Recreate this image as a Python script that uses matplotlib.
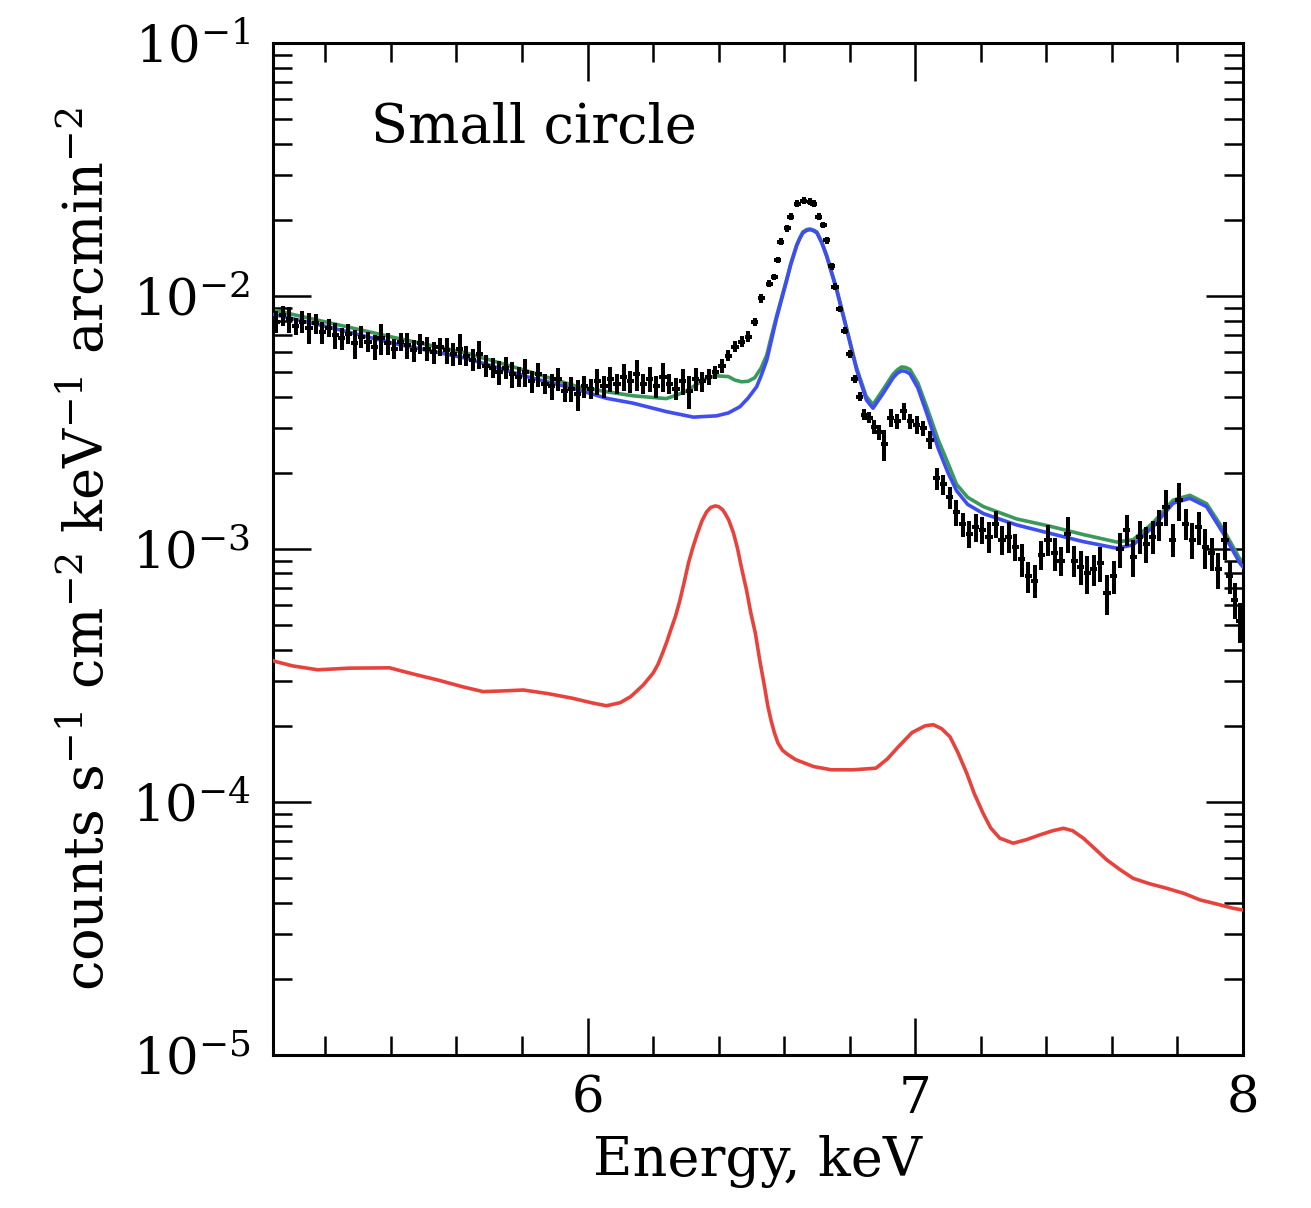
import matplotlib
matplotlib.use("Agg")
import matplotlib.pyplot as plt
from matplotlib.ticker import LogLocator, LogFormatterMathtext, MultipleLocator, NullFormatter

plt.rcParams['font.family'] = 'DejaVu Serif'
plt.rcParams['mathtext.fontset'] = 'dejavuserif'

# observed spectrum (keV, counts s^-1 cm^-2 keV^-1 arcmin^-2, relative error)
energy = [5.05, 5.07, 5.09, 5.11, 5.13, 5.15, 5.17, 5.19, 5.21, 5.23, 5.25, 5.27, 5.29, 5.31,
          5.33, 5.35, 5.37, 5.39, 5.41, 5.43, 5.45, 5.47, 5.49, 5.51, 5.53, 5.55, 5.57, 5.59,
          5.61, 5.63, 5.65, 5.67, 5.69, 5.71, 5.73, 5.75, 5.77, 5.79, 5.81, 5.83, 5.85, 5.87,
          5.89, 5.91, 5.93, 5.95, 5.97, 5.99, 6.01, 6.03, 6.05, 6.07, 6.09, 6.11, 6.13, 6.15,
          6.17, 6.19, 6.21, 6.23, 6.25, 6.27, 6.29, 6.31, 6.33, 6.35,
          6.37, 6.39, 6.41, 6.43, 6.45, 6.47, 6.49, 6.51, 6.53, 6.555, 6.57, 6.58, 6.59, 6.61,
          6.62, 6.64, 6.66, 6.68, 6.69, 6.705, 6.72, 6.73, 6.745, 6.755, 6.77, 6.785, 6.80,
          6.815, 6.83, 6.845, 6.86, 6.875, 6.89, 6.905, 6.925, 6.945, 6.965, 6.985, 7.005,
          7.025, 7.045, 7.065, 7.085, 7.105, 7.125, 7.145, 7.165, 7.185, 7.205, 7.225, 7.245,
          7.265, 7.285, 7.305, 7.325, 7.345, 7.365, 7.385, 7.405, 7.425, 7.445, 7.465, 7.485,
          7.505, 7.525, 7.545, 7.565, 7.585, 7.605, 7.625, 7.645, 7.665, 7.685, 7.705, 7.725,
          7.745, 7.765, 7.785, 7.805, 7.825, 7.845, 7.865, 7.885, 7.905, 7.925, 7.945, 7.96,
          7.975, 7.99]
rate = [7.9e-3, 8.4e-3, 8.1e-3, 7.6e-3, 7.9e-3, 7.5e-3, 7.8e-3, 7.2e-3, 7.5e-3, 7.0e-3, 6.8e-3,
        7.1e-3, 6.5e-3, 6.9e-3, 6.6e-3, 6.3e-3, 6.8e-3, 6.5e-3, 6.2e-3, 6.6e-3, 6.4e-3, 6.1e-3,
        6.5e-3, 6.2e-3, 6.0e-3, 6.3e-3, 6.1e-3, 5.9e-3, 6.2e-3, 5.8e-3, 5.6e-3, 5.9e-3, 5.3e-3,
        5.2e-3, 5.0e-3, 5.2e-3, 4.9e-3, 4.8e-3, 5.0e-3, 4.6e-3, 4.9e-3, 4.5e-3, 4.4e-3, 4.7e-3,
        4.2e-3, 4.3e-3, 4.1e-3, 4.4e-3, 4.3e-3, 4.6e-3, 4.4e-3, 4.7e-3, 4.5e-3, 4.8e-3, 4.6e-3,
        4.9e-3, 4.5e-3, 4.7e-3, 4.4e-3, 4.8e-3, 4.5e-3, 4.3e-3, 4.6e-3, 4.2e-3, 4.7e-3, 4.6e-3,
        4.8e-3, 5.0e-3, 5.3e-3, 5.8e-3, 6.3e-3, 6.6e-3, 6.9e-3, 7.9e-3, 9.8e-3, 1.12e-2, 1.19e-2,
        1.39e-2, 1.64e-2, 1.85e-2, 2.06e-2, 2.32e-2, 2.38e-2, 2.36e-2, 2.32e-2, 2.06e-2, 1.91e-2,
        1.66e-2, 1.31e-2, 1.09e-2, 8.9e-3, 7.3e-3, 5.9e-3, 4.7e-3, 4.0e-3, 3.4e-3, 3.3e-3,
        3.04e-3, 2.9e-3, 2.6e-3, 3.3e-3, 3.2e-3, 3.5e-3, 3.2e-3, 3.1e-3, 3.0e-3, 2.7e-3, 1.9e-3,
        1.8e-3, 1.6e-3, 1.4e-3, 1.25e-3, 1.15e-3, 1.22e-3, 1.19e-3, 1.12e-3, 1.26e-3, 1.09e-3,
        1.12e-3, 1.02e-3, 9.1e-4, 7.8e-4, 7.5e-4, 9.5e-4, 1.09e-3, 9.6e-4, 9.0e-4, 1.15e-3,
        9.0e-4, 8.5e-4, 8.0e-4, 8.3e-4, 8.8e-4, 6.7e-4, 7.8e-4, 1.0e-3, 1.19e-3, 9.3e-4, 1.12e-3,
        1.05e-3, 1.12e-3, 1.25e-3, 1.47e-3, 1.09e-3, 1.56e-3, 1.26e-3, 1.09e-3, 1.22e-3, 1.02e-3,
        9.6e-4, 8.3e-4, 1.09e-3, 7.8e-4, 6.3e-4, 5.2e-4]
rel_err = [0.10, 0.09, 0.12, 0.08, 0.10, 0.14, 0.09, 0.10, 0.08, 0.12, 0.10, 0.09, 0.13, 0.10,
           0.09, 0.11, 0.14, 0.10, 0.09, 0.08, 0.12, 0.10, 0.09, 0.11, 0.10, 0.08, 0.12, 0.10,
           0.14, 0.09, 0.10, 0.13, 0.10, 0.09, 0.11, 0.10, 0.12, 0.09, 0.13, 0.10, 0.11, 0.09,
           0.12, 0.10, 0.09, 0.11, 0.14, 0.10, 0.09, 0.12, 0.10, 0.11, 0.09, 0.12, 0.10, 0.14,
           0.09, 0.11, 0.10, 0.13, 0.09, 0.10, 0.12, 0.15, 0.10, 0.09,
           0.07, 0.06, 0.06, 0.05, 0.05, 0.05, 0.05, 0.04, 0.04, 0.03, 0.03, 0.03, 0.03, 0.03,
           0.03, 0.03, 0.03, 0.03, 0.03, 0.03, 0.03, 0.03, 0.03, 0.03, 0.03, 0.03, 0.035,
           0.04, 0.04, 0.05, 0.05, 0.06, 0.07, 0.14, 0.08, 0.07, 0.08, 0.07, 0.08, 0.07, 0.08, 0.10,
           0.09, 0.10, 0.12, 0.11, 0.12, 0.13, 0.12, 0.14, 0.12, 0.13, 0.14, 0.12, 0.15, 0.14,
           0.15, 0.13, 0.14, 0.15, 0.13, 0.16, 0.14, 0.15, 0.17, 0.14, 0.16, 0.18, 0.15, 0.16,
           0.14, 0.17, 0.15, 0.16, 0.15, 0.14, 0.16, 0.15, 0.17, 0.14, 0.16, 0.15, 0.18, 0.15,
           0.16, 0.17, 0.15, 0.16, 0.18, 0.15, 0.17, 0.18, 0.16, 0.18, 0.20, 0.20]
bin_half = 0.011

# continuum + lines model (blue)
e_blue = [5.04, 5.051, 5.204, 5.407, 5.631, 5.814, 5.96, 6.058, 6.139, 6.241, 6.323, 6.394, 6.43,
          6.465, 6.49, 6.516, 6.53, 6.547, 6.56, 6.577, 6.608, 6.62, 6.638, 6.648, 6.657, 6.668,
          6.679, 6.69, 6.70, 6.715, 6.73, 6.745, 6.76, 6.791, 6.821, 6.851, 6.871, 6.902, 6.932,
          6.945, 6.958, 6.97, 6.984, 7.008, 7.035, 7.07, 7.10, 7.126, 7.16, 7.208, 7.309, 7.411,
          7.513, 7.615, 7.665, 7.726, 7.787, 7.838, 7.889, 7.94, 7.991, 8.0]
m_blue = [8.45e-3, 8.41e-3, 7.57e-3, 6.50e-3, 5.67e-3, 4.80e-3, 4.3e-3, 3.94e-3, 3.77e-3, 3.49e-3,
          3.32e-3, 3.36e-3, 3.45e-3, 3.65e-3, 3.95e-3, 4.38e-3, 4.85e-3, 5.58e-3, 6.6e-3, 8.19e-3,
          1.156e-2, 1.33e-2, 1.578e-2, 1.69e-2, 1.775e-2, 1.815e-2, 1.83e-2, 1.81e-2, 1.775e-2,
          1.62e-2, 1.43e-2, 1.23e-2, 1.057e-2, 7.35e-3, 5.11e-3, 3.88e-3, 3.6e-3, 4.12e-3, 4.74e-3,
          4.95e-3, 5.06e-3, 5.04e-3, 4.92e-3, 4.33e-3, 3.44e-3, 2.5e-3, 2.0e-3, 1.7e-3, 1.5e-3,
          1.38e-3, 1.245e-3, 1.153e-3, 1.069e-3, 1.007e-3, 1.038e-3, 1.225e-3, 1.517e-3, 1.586e-3,
          1.47e-3, 1.153e-3, 8.77e-4, 8.5e-4]

# total model incl. reflected component (green)
e_green = [5.04, 5.05, 5.20, 5.41, 5.63, 5.81, 5.97, 6.06, 6.14, 6.24, 6.27, 6.30, 6.33, 6.36, 6.39,
           6.43, 6.45, 6.47, 6.49, 6.51, 6.53, 6.547, 6.56, 6.577, 6.608, 6.62, 6.638, 6.648,
           6.657, 6.668, 6.679, 6.69, 6.70, 6.715, 6.73, 6.745, 6.76, 6.79, 6.82, 6.85, 6.871,
           6.902, 6.932, 6.945, 6.958, 6.97, 6.984, 7.008, 7.035, 7.07, 7.10, 7.126, 7.16, 7.208,
           7.309, 7.411, 7.513, 7.615, 7.665, 7.726, 7.787, 7.838, 7.889, 7.94, 7.99, 8.0]
m_green = [8.8e-3, 8.75e-3, 7.9e-3, 6.85e-3, 5.95e-3, 5.08e-3, 4.38e-3, 4.18e-3, 4.03e-3, 3.93e-3,
           4.05e-3, 4.2e-3, 4.45e-3, 4.7e-3, 4.84e-3, 4.8e-3, 4.65e-3, 4.58e-3, 4.6e-3, 4.75e-3,
           5.2e-3, 5.85e-3, 6.85e-3, 8.35e-3, 1.17e-2, 1.34e-2, 1.59e-2, 1.70e-2, 1.79e-2, 1.83e-2,
           1.84e-2, 1.82e-2, 1.79e-2, 1.63e-2, 1.445e-2, 1.24e-2, 1.07e-2, 7.5e-3, 5.25e-3, 4.02e-3,
           3.72e-3, 4.27e-3, 4.9e-3, 5.1e-3, 5.24e-3, 5.22e-3, 5.12e-3, 4.53e-3, 3.64e-3, 2.7e-3,
           2.18e-3, 1.8e-3, 1.6e-3, 1.47e-3, 1.315e-3, 1.23e-3, 1.14e-3, 1.065e-3, 1.088e-3,
           1.27e-3, 1.56e-3, 1.63e-3, 1.51e-3, 1.195e-3, 9.15e-4, 8.9e-4]

# reflected component (red)
e_red = [5.04, 5.048, 5.10, 5.177, 5.273, 5.396, 5.47, 5.545, 5.62, 5.681, 5.75, 5.804, 5.88, 5.954,
         6.01, 6.058, 6.10, 6.132, 6.17, 6.20, 6.215, 6.228, 6.242, 6.254, 6.268, 6.281, 6.295,
         6.308, 6.322, 6.335, 6.349, 6.363, 6.376, 6.39, 6.40, 6.412, 6.42, 6.431, 6.445, 6.458,
         6.47, 6.485, 6.498, 6.512, 6.526, 6.54, 6.55, 6.56, 6.57, 6.581, 6.595, 6.608, 6.635,
         6.69, 6.744, 6.81, 6.88, 6.915, 6.948, 6.99, 7.03, 7.055, 7.08, 7.106, 7.13, 7.157, 7.18,
         7.207, 7.23, 7.258, 7.299, 7.34, 7.38, 7.42, 7.452, 7.48, 7.513, 7.55, 7.584, 7.625,
         7.665, 7.715, 7.767, 7.82, 7.869, 7.92, 7.97, 8.0]
m_red = [3.62e-4, 3.59e-4, 3.45e-4, 3.33e-4, 3.38e-4, 3.39e-4, 3.2e-4, 3.03e-4, 2.85e-4, 2.73e-4,
         2.75e-4, 2.77e-4, 2.68e-4, 2.57e-4, 2.47e-4, 2.40e-4, 2.47e-4, 2.61e-4, 2.9e-4, 3.23e-4,
         3.5e-4, 3.85e-4, 4.3e-4, 4.79e-4, 5.4e-4, 6.2e-4, 7.4e-4, 8.81e-4, 1.02e-3, 1.15e-3,
         1.29e-3, 1.40e-3, 1.46e-3, 1.48e-3, 1.47e-3, 1.43e-3, 1.38e-3, 1.30e-3, 1.16e-3, 1.0e-3,
         8.4e-4, 6.89e-4, 5.6e-4, 4.65e-4, 3.6e-4, 2.86e-4, 2.4e-4, 2.1e-4, 1.88e-4, 1.71e-4,
         1.6e-4, 1.55e-4, 1.47e-4, 1.38e-4, 1.34e-4, 1.34e-4, 1.36e-4, 1.48e-4, 1.65e-4, 1.88e-4,
         2.0e-4, 2.02e-4, 1.95e-4, 1.81e-4, 1.57e-4, 1.30e-4, 1.08e-4, 9.02e-5, 7.9e-5, 7.19e-5,
         6.87e-5, 7.1e-5, 7.41e-5, 7.7e-5, 7.87e-5, 7.7e-5, 7.19e-5, 6.5e-5, 5.91e-5, 5.4e-5,
         4.99e-5, 4.75e-5, 4.56e-5, 4.35e-5, 4.10e-5, 3.95e-5, 3.80e-5, 3.74e-5]

fig = plt.figure(figsize=(13.11, 12.08), dpi=100)
ax = fig.add_axes([0.2082, 0.1267, 0.7399, 0.8377])

ax.plot(e_green, m_green, color='#3a9a5a', lw=2.6, zorder=2)
ax.plot(e_blue, m_blue, color='#3f4df2', lw=2.6, zorder=3)
yerr = [r * v for r, v in zip(rel_err, rate)]
ax.errorbar(energy, rate, xerr=bin_half, yerr=yerr, fmt='none', ecolor='black',
            elinewidth=2.9, capsize=0, zorder=4)
ax.plot(e_red, m_red, color='#e8423d', lw=2.6, zorder=5)

ax.set_yscale('log')
ax.set_xlim(5.04, 8.0)
ax.set_ylim(1e-5, 1e-1)

ax.xaxis.set_major_locator(MultipleLocator(1))
ax.xaxis.set_minor_locator(MultipleLocator(0.2))
ax.yaxis.set_major_locator(LogLocator(base=10, numticks=10))
ax.yaxis.set_minor_locator(LogLocator(base=10, subs=range(2, 10), numticks=20))
ax.yaxis.set_major_formatter(LogFormatterMathtext())
ax.yaxis.set_minor_formatter(NullFormatter())

ax.tick_params(which='both', direction='in', top=True, right=True, labelsize=37)
ax.tick_params(which='major', length=27, width=1.8)
ax.tick_params(which='minor', length=13.5, width=1.8)
ax.tick_params(axis='x', which='major', pad=14)
ax.tick_params(axis='y', which='major', pad=16)
for s in ax.spines.values():
    s.set_linewidth(2.2)

ax.text(5.34, 4.6e-2, 'Small circle', fontsize=39, va='center', ha='left')
ax.set_xlabel('Energy, keV', fontsize=39, labelpad=8)
ax.set_ylabel(r'counts s$^{-1}$ cm$^{-2}$ keV$^{-1}$ arcmin$^{-2}$', fontsize=39, labelpad=12)

fig.savefig('out.png', dpi=100)
